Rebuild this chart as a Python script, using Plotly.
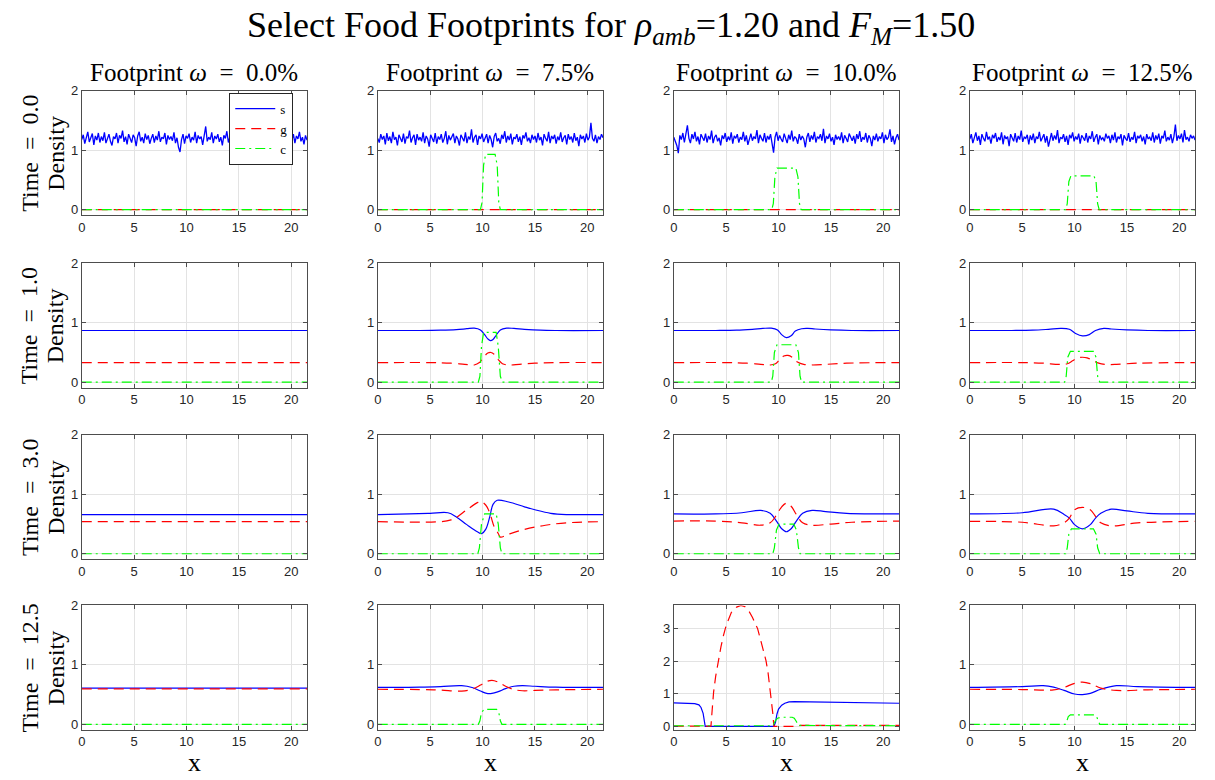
import numpy as np
import plotly.graph_objects as go

W, H = 1215, 780
X_END = 21.5

col_titles = ["Footprint <i>ω</i>  =  0.0%", "Footprint <i>ω</i>  =  7.5%",
              "Footprint <i>ω</i>  =  10.0%", "Footprint <i>ω</i>  =  12.5%"]
row_titles = ["Time  =  0.0", "Time  =  1.0", "Time  =  3.0", "Time  =  12.5"]
x_ticks = [0, 5, 10, 15, 20]

# ---- Time 0.0 : noisy s (values read by eye) ----
s0_c1 = [1.18,1.26,1.11,1.22,1.31,1.14,1.21,1.28,1.09,1.24,1.17,1.29,1.13,1.23,1.16,
         1.30,1.12,1.21,1.27,1.15,1.08,1.23,1.19,1.29,1.12,1.25,1.20,1.33,1.14,1.23,
         1.10,1.27,1.19,1.13,1.26,1.21,1.07,1.24,1.31,1.15,1.22,1.12,1.28,1.18,1.25,
         1.11,1.20,1.27,1.13,1.24,1.17,1.32,1.14,1.22,1.19,1.29,1.10,1.25,1.18,1.23,
         1.16,1.30,1.12,1.21,1.05,0.97,1.18,1.27,1.11,1.24,1.20,1.28,1.13,1.22,1.17,
         1.31,1.12,1.25,1.19,1.23,1.09,1.26,1.40,1.15,1.22,1.18,1.30,1.12,1.24,1.19,
         1.27,1.14,1.22,1.08,1.25,1.20,1.32,1.13,1.23,1.17,1.28,1.11,1.24,1.19,1.29,
         1.15,1.21,1.26,1.12,1.23,1.18,1.31,1.14,1.25,1.20,1.09,1.27,1.16,1.22,1.30,
         1.13,1.24,1.19,1.28,1.11,1.23,1.17,1.33,1.15,1.21,1.26,1.10,1.25,1.05,1.20,
         1.28,1.14,1.22,1.06,1.18,1.27,1.12,1.24,1.19,1.31,1.15,1.22,1.10,1.25,1.17]
s0_c2 = [1.20,1.13,1.27,1.18,1.24,1.10,1.29,1.16,1.23,1.12,1.31,1.18,1.22,1.08,1.26,
         1.19,1.14,1.28,1.11,1.23,1.20,1.33,1.13,1.21,1.26,1.09,1.27,1.17,1.22,1.15,
         1.30,1.12,1.24,1.19,1.06,1.26,1.21,1.14,1.29,1.11,1.23,1.18,1.27,1.13,1.20,
         1.32,1.10,1.25,1.17,1.22,1.28,1.12,1.24,1.19,1.08,1.26,1.21,1.15,1.30,1.12,
         1.23,1.18,1.35,1.13,1.22,1.26,1.09,1.24,1.19,1.28,1.14,1.21,1.27,1.12,1.25,
         1.18,1.05,1.23,1.29,1.15,1.20,1.11,1.26,1.19,1.32,1.13,1.24,1.17,1.28,1.10,
         1.22,1.19,1.27,1.14,1.23,1.09,1.25,1.20,1.30,1.15,1.21,1.12,1.26,1.18,1.24,
         1.13,1.29,1.17,1.22,1.08,1.27,1.20,1.15,1.31,1.12,1.24,1.19,1.26,1.11,1.23,
         1.17,1.30,1.14,1.21,1.25,1.10,1.27,1.18,1.23,1.13,1.29,1.16,1.22,1.07,1.26,
         1.19,1.24,1.13,1.28,1.17,1.22,1.46,1.20,1.15,1.26,1.12,1.23,1.18,1.27,1.21]
s0_c3 = [1.22,1.14,1.08,0.95,1.25,1.18,1.29,1.13,1.26,1.42,1.20,1.12,1.27,1.19,1.31,
         1.15,1.23,1.10,1.27,1.20,1.16,1.28,1.13,1.24,1.18,1.33,1.12,1.22,1.26,1.15,
         1.21,1.08,1.25,1.19,1.29,1.14,1.23,1.17,1.30,1.11,1.24,1.20,1.27,1.13,1.22,
         1.18,1.31,1.15,1.25,1.09,1.21,1.28,1.16,1.23,1.19,1.34,1.12,1.26,1.20,1.15,
         1.29,1.13,1.24,1.18,1.27,1.10,0.96,1.22,1.31,1.16,1.25,1.19,1.14,1.28,1.21,
         1.12,1.26,1.18,1.33,1.15,1.23,1.20,1.11,1.27,1.17,1.24,1.19,1.05,1.22,1.29,
         1.14,1.25,1.18,1.31,1.13,1.23,1.20,1.27,1.16,1.36,1.12,1.24,1.19,1.28,1.15,
         1.22,1.09,1.26,1.18,1.23,1.17,1.30,1.12,1.25,1.20,1.14,1.28,1.21,1.16,1.24,
         1.11,1.27,1.19,1.32,1.14,1.22,1.18,1.29,1.13,1.25,1.20,1.07,1.24,1.17,1.28,
         1.15,1.23,1.19,1.30,1.12,1.26,1.18,1.22,1.35,1.14,1.24,1.10,1.21,1.27,1.17]
s0_c4 = [1.19,1.27,1.12,1.22,1.30,1.16,1.24,1.09,1.27,1.20,1.15,1.31,1.18,1.23,1.11,
         1.26,1.20,1.29,1.14,1.22,1.17,1.30,1.10,1.25,1.19,1.23,1.07,1.27,1.21,1.15,
         1.29,1.13,1.24,1.18,1.33,1.14,1.22,1.20,1.26,1.10,1.25,1.17,1.28,1.12,1.23,
         1.19,1.31,1.15,1.21,1.27,1.13,1.24,1.06,1.20,1.29,1.16,1.25,1.18,1.34,1.12,
         1.22,1.19,1.27,1.14,1.24,1.09,1.26,1.20,1.30,1.15,1.23,1.18,1.28,1.11,1.25,
         1.21,1.16,1.29,1.13,1.24,1.19,1.32,1.14,1.22,1.27,1.10,1.25,1.18,1.21,1.15,
         1.28,1.20,1.24,1.12,1.26,1.17,1.30,1.13,1.23,1.19,1.27,1.08,1.25,1.20,1.16,
         1.29,1.14,1.22,1.18,1.31,1.12,1.24,1.20,1.26,1.15,1.23,1.10,1.27,1.19,1.22,
         1.16,1.30,1.13,1.25,1.18,1.28,1.11,1.24,1.20,1.33,1.15,1.22,1.17,1.27,1.12,
         1.23,1.43,1.16,1.25,1.19,1.28,1.13,1.34,1.18,1.22,1.15,1.26,1.20,1.24,1.17]

# Time 0.0 : g and c
g_t0 = ([0, X_END], [0, 0])
c_t0_c1 = ([0, X_END], [0, 0])
c_t0_c2 = ([0, 9.8, 9.95, 10.1, 10.3, 11.2, 11.4, 11.55, 11.7, X_END],
           [0, 0, 0.12, 0.75, 0.93, 0.93, 0.75, 0.12, 0, 0])
c_t0_c3 = ([0, 9.35, 9.5, 9.65, 9.85, 11.65, 11.85, 12.0, 12.15, X_END],
           [0, 0, 0.1, 0.55, 0.70, 0.70, 0.55, 0.1, 0, 0])
c_t0_c4 = ([0, 9.15, 9.3, 9.45, 9.65, 11.85, 12.05, 12.2, 12.35, X_END],
           [0, 0, 0.1, 0.47, 0.57, 0.57, 0.47, 0.1, 0, 0])

# Time 1.0
s_t1_c1 = ([0, X_END], [0.87, 0.87])
g_t1_c1 = ([0, X_END], [0.33, 0.33])
c_t1_c1 = ([0, X_END], [0, 0])
s_t1_c2 = ([0, 4, 6, 7.5, 8.5, 9.2, 9.8, 10.2, 10.5, 10.75, 11.0, 11.3, 11.7, 12.3, 13, 14, 15.5, 17, X_END],
           [0.87, 0.87, 0.875, 0.885, 0.90, 0.91, 0.88, 0.80, 0.73, 0.70, 0.72, 0.79, 0.88, 0.91, 0.905, 0.89, 0.875, 0.87, 0.87])
g_t1_c2 = ([0, 5, 7, 8.3, 9.2, 9.7, 10.1, 10.5, 10.8, 11.1, 11.5, 11.9, 12.5, 13.5, 15, 17, X_END],
           [0.33, 0.33, 0.32, 0.30, 0.29, 0.33, 0.42, 0.49, 0.50, 0.47, 0.38, 0.31, 0.29, 0.30, 0.32, 0.33, 0.33])
c_t1_c2 = ([0, 9.6, 9.75, 9.9, 10.1, 11.3, 11.5, 11.7, 11.9, X_END],
           [0, 0, 0.1, 0.6, 0.84, 0.84, 0.6, 0.1, 0, 0])
s_t1_c3 = ([0, 4, 6, 7.5, 8.5, 9.3, 9.9, 10.3, 10.75, 11.2, 11.6, 12.2, 12.8, 13.5, 15, 17, X_END],
           [0.87, 0.87, 0.875, 0.89, 0.905, 0.91, 0.88, 0.80, 0.75, 0.78, 0.86, 0.90, 0.905, 0.895, 0.88, 0.87, 0.87])
g_t1_c3 = ([0, 5, 7, 8.3, 9.2, 9.7, 10.1, 10.5, 10.9, 11.3, 11.8, 12.4, 13.2, 14.5, 16.5, X_END],
           [0.33, 0.33, 0.32, 0.30, 0.29, 0.31, 0.38, 0.44, 0.45, 0.42, 0.34, 0.30, 0.29, 0.30, 0.32, 0.33])
c_t1_c3 = ([0, 9.3, 9.45, 9.6, 9.85, 11.65, 11.9, 12.05, 12.2, X_END],
           [0, 0, 0.1, 0.5, 0.63, 0.63, 0.5, 0.1, 0, 0])
s_t1_c4 = ([0, 4, 6, 7.5, 8.7, 9.5, 10.1, 10.75, 11.4, 12.0, 12.8, 13.5, 15, 17, X_END],
           [0.87, 0.87, 0.875, 0.89, 0.905, 0.89, 0.82, 0.78, 0.80, 0.87, 0.905, 0.895, 0.88, 0.87, 0.87])
g_t1_c4 = ([0, 5, 7, 8.5, 9.3, 9.8, 10.3, 10.75, 11.2, 11.7, 12.3, 12.9, 14, 16, X_END],
           [0.33, 0.33, 0.32, 0.30, 0.31, 0.36, 0.41, 0.42, 0.41, 0.37, 0.32, 0.30, 0.30, 0.32, 0.33])
c_t1_c4 = ([0, 9.05, 9.2, 9.35, 9.6, 11.8, 12.05, 12.2, 12.4, X_END],
           [0, 0, 0.1, 0.42, 0.52, 0.52, 0.42, 0.1, 0, 0])

# Time 3.0
s_t3_c1 = ([0, X_END], [0.66, 0.66])
g_t3_c1 = ([0, X_END], [0.54, 0.54])
c_t3_c1 = ([0, X_END], [0, 0])
s_t3_c2 = ([0, 3, 5, 6.7, 7.5, 8.5, 9.5, 9.9, 10.3, 10.7, 11.0, 11.4, 12.5, 14, 15, 16.5, 18, X_END],
           [0.66, 0.67, 0.68, 0.69, 0.62, 0.49, 0.37, 0.34, 0.41, 0.63, 0.83, 0.90, 0.87, 0.79, 0.74, 0.68, 0.66, 0.66])
g_t3_c2 = ([0, 6, 7, 7.5, 8.5, 9.5, 9.8, 10.3, 10.7, 11.1, 11.5, 11.7, 12.5, 14, 16, 18, X_END],
           [0.54, 0.54, 0.57, 0.61, 0.74, 0.86, 0.88, 0.82, 0.68, 0.46, 0.34, 0.28, 0.33, 0.41, 0.48, 0.52, 0.54])
c_t3_c2 = ([0, 9.55, 9.7, 9.9, 10.2, 11.3, 11.5, 11.7, 11.85, X_END],
           [0, 0, 0.1, 0.5, 0.67, 0.67, 0.5, 0.1, 0, 0])
s_t3_c3 = ([0, 4, 6.5, 8.3, 9.2, 9.8, 10.3, 10.75, 11.2, 11.7, 12.3, 13.2, 14.5, 16.5, X_END],
           [0.67, 0.67, 0.69, 0.73, 0.68, 0.55, 0.42, 0.37, 0.42, 0.55, 0.68, 0.73, 0.71, 0.68, 0.67])
g_t3_c3 = ([0, 4, 6.5, 8.3, 9.2, 9.8, 10.3, 10.75, 11.2, 11.7, 12.3, 13.2, 15, 17, X_END],
           [0.55, 0.55, 0.52, 0.48, 0.52, 0.65, 0.79, 0.85, 0.80, 0.66, 0.52, 0.48, 0.50, 0.53, 0.55])
c_t3_c3 = ([0, 9.45, 9.6, 9.8, 10.05, 11.45, 11.7, 11.9, 12.05, X_END],
           [0, 0, 0.1, 0.4, 0.50, 0.50, 0.4, 0.1, 0, 0])
s_t3_c4 = ([0, 5, 8, 9, 9.5, 10, 10.75, 11.5, 12, 12.5, 13.5, 15, 17, X_END],
           [0.67, 0.69, 0.75, 0.66, 0.60, 0.49, 0.42, 0.49, 0.60, 0.68, 0.75, 0.72, 0.68, 0.67])
g_t3_c4 = ([0, 5, 8, 9, 9.5, 10, 10.75, 11.5, 12, 12.5, 13.5, 16, X_END],
           [0.545, 0.53, 0.47, 0.52, 0.60, 0.74, 0.78, 0.74, 0.63, 0.52, 0.47, 0.52, 0.545])
c_t3_c4 = ([0, 9.15, 9.3, 9.45, 9.7, 11.8, 12.05, 12.2, 12.4, X_END],
           [0, 0, 0.1, 0.33, 0.42, 0.42, 0.33, 0.1, 0, 0])

# Time 12.5
s_t12_c1 = ([0, X_END], [0.61, 0.61])
g_t12_c1 = ([0, X_END], [0.595, 0.595])
c_t12_c1 = ([0, X_END], [0, 0])
s_t12_c2 = ([0, 4, 6, 8, 9, 9.8, 10.4, 10.9, 11.5, 12.2, 13, 13.8, 15, 17, X_END],
            [0.62, 0.625, 0.635, 0.65, 0.62, 0.56, 0.52, 0.52, 0.55, 0.60, 0.64, 0.65, 0.64, 0.625, 0.62])
g_t12_c2 = ([0, 4, 6, 8, 9, 9.8, 10.4, 10.9, 11.5, 12.2, 13, 13.8, 15, 17, X_END],
            [0.59, 0.585, 0.575, 0.56, 0.59, 0.66, 0.72, 0.74, 0.71, 0.64, 0.585, 0.565, 0.57, 0.58, 0.59])
c_t12_c2 = ([0, 9.6, 9.75, 9.9, 10.15, 11.35, 11.55, 11.7, 11.85, X_END],
            [0, 0, 0.06, 0.2, 0.25, 0.25, 0.2, 0.06, 0, 0])
s_t12_c3 = ([0, 1, 2, 2.4, 2.6, 2.8, 2.95, 3.0, 9.55, 9.7, 9.85, 10.0, 10.3, 10.6, 11.0, 11.5, 13, 15, 18, X_END],
            [0.72, 0.71, 0.70, 0.66, 0.58, 0.40, 0.12, 0, 0, 0.12, 0.38, 0.53, 0.65, 0.71, 0.75, 0.76, 0.75, 0.74, 0.72, 0.71])
g_t12_c3 = ([0, 3.55, 3.65, 3.8, 4, 4.25, 4.5, 4.75, 5, 5.5, 6, 6.4, 6.8, 7.2, 7.5, 8, 8.5, 8.8, 9, 9.2, 9.35, 9.45, 9.55, 11.8, 12.1, X_END],
            [0.01, 0.01, 0.45, 1.05, 1.54, 2.05, 2.44, 2.80, 3.10, 3.50, 3.66, 3.71, 3.67, 3.52, 3.35, 3.00, 2.44, 2.02, 1.64, 1.15, 0.75, 0.40, 0.0, 0.0, 0.03, 0.03])
c_t12_c3 = ([0, 9.4, 9.55, 9.7, 9.9, 10.2, 11.3, 11.5, 11.7, 11.9, X_END],
            [0.02, 0.02, 0.08, 0.18, 0.25, 0.28, 0.28, 0.25, 0.15, 0.03, 0.02])
s_t12_c4 = ([0, 5, 7, 8, 9, 10, 10.75, 11.5, 12.5, 14, 16, X_END],
            [0.62, 0.635, 0.65, 0.625, 0.57, 0.51, 0.50, 0.52, 0.59, 0.65, 0.635, 0.62])
g_t12_c4 = ([0, 5, 8, 9, 10, 10.75, 11.5, 12.5, 14, 17, X_END],
            [0.59, 0.585, 0.58, 0.62, 0.69, 0.71, 0.685, 0.61, 0.57, 0.58, 0.59])
c_t12_c4 = ([0, 9.1, 9.25, 9.4, 9.6, 11.9, 12.1, 12.25, 12.4, X_END],
            [0, 0, 0.05, 0.13, 0.16, 0.16, 0.13, 0.05, 0, 0])

noise = [s0_c1, s0_c2, s0_c3, s0_c4]
panels = [
    [None, None, None, None],
    [(s_t1_c1, g_t1_c1, c_t1_c1), (s_t1_c2, g_t1_c2, c_t1_c2), (s_t1_c3, g_t1_c3, c_t1_c3), (s_t1_c4, g_t1_c4, c_t1_c4)],
    [(s_t3_c1, g_t3_c1, c_t3_c1), (s_t3_c2, g_t3_c2, c_t3_c2), (s_t3_c3, g_t3_c3, c_t3_c3), (s_t3_c4, g_t3_c4, c_t3_c4)],
    [(s_t12_c1, g_t12_c1, c_t12_c1), (s_t12_c2, g_t12_c2, c_t12_c2), (s_t12_c3, g_t12_c3, c_t12_c3), (s_t12_c4, g_t12_c4, c_t12_c4)],
]
c_t0 = [c_t0_c1, c_t0_c2, c_t0_c3, c_t0_c4]
for c in range(4):
    xs = list(np.linspace(0, X_END, len(noise[c])))
    panels[0][c] = ((xs, noise[c]), g_t0, c_t0[c])

# ---- layout geometry (pixels) ----
col_left = [78, 375, 672, 969]
col_w = 226
row_top = [85, 260, 434, 607]
row_h = 126

BLUE, RED, GREEN = "#0000ff", "#ff0000", "#00ff00"
SERIF = "Liberation Serif"
SANS = "Liberation Sans"
AXC = "#4d4d4d"

fig = go.Figure()
layout = {}
for r in range(4):
    for c in range(4):
        k = r * 4 + c + 1
        xa = "x" if k == 1 else f"x{k}"
        ya = "y" if k == 1 else f"y{k}"
        s, g, cc = panels[r][c]
        special = (r == 3 and c == 2)
        shape_sg = "linear" if (r == 0 or special) else "spline"
        first = (k == 1)
        fig.add_trace(go.Scatter(x=s[0], y=s[1], mode="lines", name="s", xaxis=xa, yaxis=ya,
                                 line=dict(color=BLUE, width=1.3 if r == 0 else 1.2, shape=shape_sg),
                                 showlegend=first, legendrank=1))
        fig.add_trace(go.Scatter(x=g[0], y=g[1], mode="lines", name="g", xaxis=xa, yaxis=ya,
                                 line=dict(color=RED, width=1.2, dash="10px,6px", shape=shape_sg),
                                 showlegend=first, legendrank=2))
        fig.add_trace(go.Scatter(x=cc[0], y=cc[1], mode="lines", name="c", xaxis=xa, yaxis=ya,
                                 line=dict(color=GREEN, width=1.2, dash="10px,4px,2px,4px"),
                                 showlegend=first, legendrank=3))
        x0 = col_left[c] / W
        x1 = (col_left[c] + col_w) / W
        y1 = 1 - row_top[r] / H
        y0 = 1 - (row_top[r] + row_h) / H
        common = dict(showline=True, linecolor=AXC, linewidth=1, mirror="ticks",
                      ticks="inside", ticklen=4, tickcolor=AXC, tickwidth=1,
                      showgrid=True, gridcolor="#e3e3e3", gridwidth=1, zeroline=False,
                      tickfont=dict(family=SANS, size=13, color="#262626"))
        layout["xaxis" if k == 1 else f"xaxis{k}"] = dict(
            domain=[x0, x1], anchor=ya, range=[0, X_END], tickvals=x_ticks, **common)
        if special:
            yr, yt = [-0.1, 3.71], [0, 1, 2, 3]
        else:
            yr, yt = [-0.09, 2.0], [0, 1, 2]
        layout["yaxis" if k == 1 else f"yaxis{k}"] = dict(
            domain=[y0, y1], anchor=xa, range=yr, tickvals=yt, **common)

ann = []
ann.append(dict(text="Select Food Footprints for <i>ρ</i><sub><i>amb</i></sub>=1.20 and <i>F</i><sub><i>M</i></sub>=1.50",
                x=609 / W, y=1 - 21 / H, xref="paper", yref="paper", showarrow=False,
                xanchor="center", yanchor="middle", font=dict(family=SERIF, size=36, color="#000")))
for c in range(4):
    cx = (col_left[c] + col_w / 2) / W
    ann.append(dict(text=col_titles[c], x=cx, y=1 - 66 / H, xref="paper", yref="paper",
                    showarrow=False, xanchor="center", yanchor="middle",
                    font=dict(family=SERIF, size=25, color="#000")))
    ann.append(dict(text="x", x=cx, y=1 - 766 / H, xref="paper", yref="paper",
                    showarrow=False, xanchor="center", yanchor="middle",
                    font=dict(family=SERIF, size=26, color="#000")))
for r in range(4):
    cy = 1 - (row_top[r] + row_h / 2) / H
    ann.append(dict(text=row_titles[r], x=26 / W, y=cy, xref="paper", yref="paper",
                    showarrow=False, xanchor="center", yanchor="middle", textangle=-90,
                    font=dict(family=SERIF, size=24, color="#000")))
    ann.append(dict(text="Density", x=52 / W, y=cy, xref="paper", yref="paper",
                    showarrow=False, xanchor="center", yanchor="middle", textangle=-90,
                    font=dict(family=SERIF, size=24, color="#000")))

fig.update_layout(
    width=W, height=H, margin=dict(l=0, r=0, t=0, b=0),
    paper_bgcolor="white", plot_bgcolor="white",
    annotations=ann,
    legend=dict(x=226 / W, y=1 - 87 / H, xanchor="left", yanchor="top",
                bgcolor="white", bordercolor="#262626", borderwidth=1,
                font=dict(family=SERIF, size=13, color="#000"),
                itemwidth=40, tracegroupgap=0),
    **layout,
)
fig.write_html("out.html")
